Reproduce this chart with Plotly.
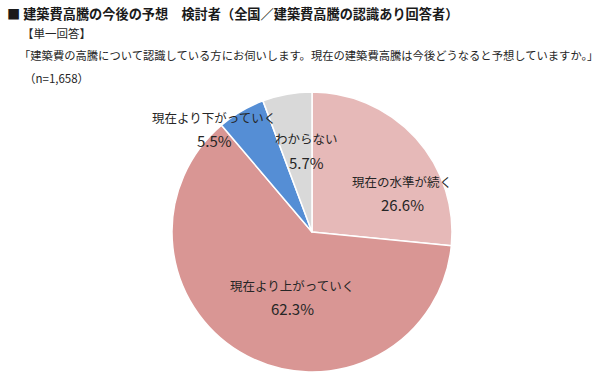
import plotly.graph_objects as go

labels = ["現在の水準が続く", "現在より上がっていく", "現在より下がっていく", "わからない"]
values = [26.6, 62.3, 5.5, 5.7]
colors = ["#E6B9B8", "#D99694", "#558ED5", "#D9D9D9"]

title = "■ 建築費高騰の今後の予想　検討者（全国／建築費高騰の認識あり回答者）"
sub1 = "【単一回答】"
sub2 = "「建築費の高騰について認識している方にお伺いします。現在の建築費高騰は今後どうなると予想していますか。」"
sub3 = "（n=1,658）"

# label anchor positions in paper coords (x, y of label line, y of value line)
label_pos = [(402/600, 1-181/378, 1-204/378),
             (292/600, 1-285/378, 1-308/378),
             (214/600, 1-117/378, 1-140/378),
             (306/600, 1-138/378, 1-162/378)]

FONT = "Noto Sans CJK JP"
TXT = "#262626"

fig = go.Figure(go.Pie(
    labels=labels, values=values, sort=False, direction="clockwise", rotation=0,
    marker=dict(colors=colors, line=dict(color="white", width=1.5)),
    textinfo="none", hoverinfo="label+percent",
    domain=dict(x=[172/600, 452/600], y=[1-372/378, 1-92/378]),
    showlegend=False,
))

ann = []
for lab, v, (x, y1, y2) in zip(labels, values, label_pos):
    ann.append(dict(x=x, y=y1, xref="paper", yref="paper", text=lab, showarrow=False,
                    xanchor="center", yanchor="middle", font=dict(size=12.5, color=TXT, family=FONT)))
    ann.append(dict(x=x, y=y2, xref="paper", yref="paper", text=f"{v:.1f}%", showarrow=False,
                    xanchor="center", yanchor="middle", font=dict(size=15, color=TXT, family=FONT)))

ann.append(dict(x=5/600, y=1-14/378, xref="paper", yref="paper", text=f"<b>{title}</b>", showarrow=False,
                xanchor="left", yanchor="middle", font=dict(size=13.2, color="#1a1a1a", family=FONT)))
ann.append(dict(x=20/600, y=1-33/378, xref="paper", yref="paper", text=sub1, showarrow=False,
                xanchor="left", yanchor="middle", font=dict(size=11.5, color=TXT, family=FONT)))
ann.append(dict(x=17/600, y=1-55/378, xref="paper", yref="paper", text=sub2, showarrow=False,
                xanchor="left", yanchor="middle", font=dict(size=11.3, color=TXT, family=FONT)))
ann.append(dict(x=22/600, y=1-78/378, xref="paper", yref="paper", text=sub3, showarrow=False,
                xanchor="left", yanchor="middle", font=dict(size=11.5, color=TXT, family=FONT)))

fig.update_layout(
    width=600, height=378, margin=dict(l=0, r=0, t=0, b=0),
    paper_bgcolor="white", plot_bgcolor="white",
    font=dict(family=FONT, color=TXT),
    annotations=ann,
)
fig.write_html("out.html")
